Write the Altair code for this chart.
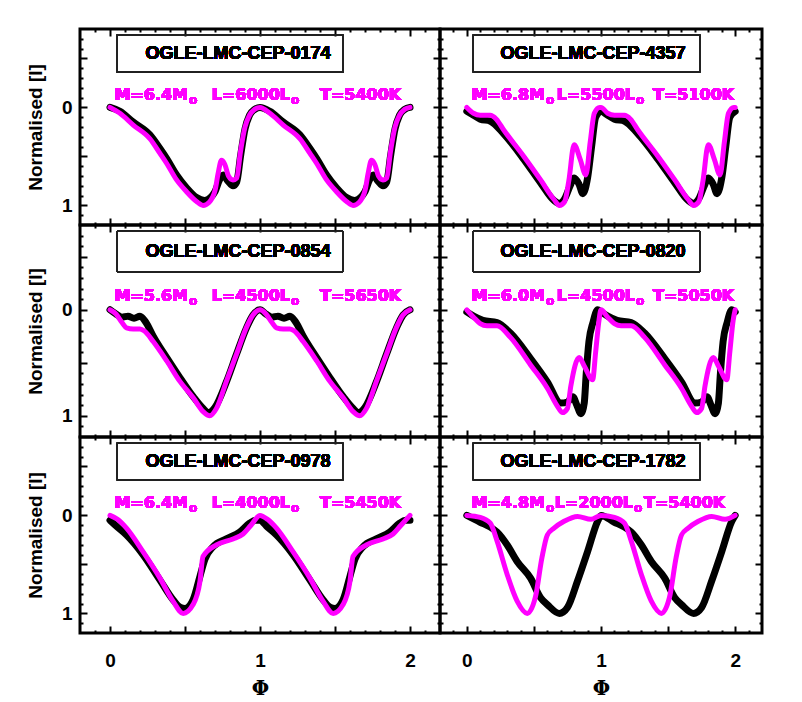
import altair as alt
import pandas as pd

# ---------------- data ----------------
star_names = ["OGLE-LMC-CEP-0174", "OGLE-LMC-CEP-4357",
              "OGLE-LMC-CEP-0854", "OGLE-LMC-CEP-0820",
              "OGLE-LMC-CEP-0978", "OGLE-LMC-CEP-1782"]
masses = ["6.4", "6.8", "5.6", "6.0", "6.4", "4.8"]
lums = ["6000", "5500", "4500", "4500", "4000", "2000"]
temps = ["5400", "5100", "5650", "5050", "5450", "5400"]

# OGLE-LMC-CEP-0174
obs_ph_0174 = [0, 0.066, 0.155, 0.266, 0.333, 0.377, 0.444, 0.51, 0.577, 0.63, 0.67, 0.70, 0.73, 0.755, 0.785, 0.82, 0.845, 0.87, 0.90, 0.93, 0.965, 1.0]
obs_v_0174 = [0, 0.04, 0.15, 0.28, 0.42, 0.52, 0.69, 0.82, 0.92, 0.95, 0.92, 0.86, 0.74, 0.69, 0.75, 0.80, 0.76, 0.50, 0.22, 0.08, 0.02, 0]
mod_ph_0174 = [0, 0.066, 0.155, 0.266, 0.333, 0.377, 0.444, 0.51, 0.577, 0.62, 0.66, 0.70, 0.72, 0.743, 0.765, 0.79, 0.82, 0.845, 0.87, 0.90, 0.93, 0.965, 1.0]
mod_v_0174 = [0, 0.06, 0.18, 0.32, 0.47, 0.57, 0.74, 0.86, 0.96, 1.0, 0.97, 0.85, 0.68, 0.54, 0.58, 0.70, 0.74, 0.72, 0.45, 0.20, 0.08, 0.02, 0]

# OGLE-LMC-CEP-4357
obs_ph_4357 = [0, 0.05, 0.1, 0.175, 0.275, 0.425, 0.55, 0.65, 0.69, 0.73, 0.77, 0.80, 0.835, 0.865, 0.90, 0.93, 0.96, 1.0]
obs_v_4357 = [0.04, 0.08, 0.12, 0.14, 0.27, 0.53, 0.77, 0.95, 0.98, 0.93, 0.80, 0.72, 0.78, 0.88, 0.72, 0.40, 0.10, 0.04]
mod_ph_4357 = [0, 0.05, 0.1, 0.175, 0.22, 0.275, 0.425, 0.55, 0.65, 0.69, 0.73, 0.76, 0.80, 0.845, 0.887, 0.92, 0.95, 0.99, 1.0]
mod_v_4357 = [0, 0.06, 0.08, 0.08, 0.12, 0.23, 0.50, 0.74, 0.94, 1.0, 0.96, 0.75, 0.38, 0.53, 0.69, 0.35, 0.06, 0.0, 0.0]

# OGLE-LMC-CEP-0854
obs_ph_0854 = [0, 0.04, 0.08, 0.12, 0.16, 0.2, 0.24, 0.288, 0.377, 0.466, 0.555, 0.62, 0.655, 0.70, 0.776, 0.843, 0.91, 0.953, 1.0]
obs_v_0854 = [0, 0.04, 0.07, 0.06, 0.08, 0.06, 0.12, 0.25, 0.45, 0.64, 0.82, 0.93, 0.97, 0.92, 0.68, 0.42, 0.17, 0.05, 0]
mod_ph_0854 = [0, 0.04, 0.08, 0.11, 0.155, 0.2, 0.23, 0.288, 0.377, 0.466, 0.555, 0.621, 0.665, 0.71, 0.776, 0.843, 0.91, 0.953, 1.0]
mod_v_0854 = [0, 0.04, 0.12, 0.17, 0.18, 0.18, 0.20, 0.30, 0.48, 0.675, 0.83, 0.96, 1.0, 0.93, 0.675, 0.42, 0.166, 0.05, 0]

# OGLE-LMC-CEP-0820
obs_ph_0820 = [0, 0.05, 0.12, 0.225, 0.325, 0.475, 0.6, 0.7, 0.75, 0.79, 0.82, 0.85, 0.875, 0.89, 0.91, 0.94, 0.975, 1.0]
obs_v_0820 = [0.02, 0.06, 0.10, 0.12, 0.22, 0.46, 0.68, 0.88, 0.87, 0.82, 0.90, 0.98, 0.88, 0.60, 0.30, 0.12, 0.0, 0.02]
mod_ph_0820 = [0, 0.05, 0.1, 0.15, 0.225, 0.325, 0.475, 0.6, 0.675, 0.713, 0.75, 0.775, 0.837, 0.875, 0.9375, 0.96, 0.985, 1.0]
mod_v_0820 = [0, 0.07, 0.13, 0.15, 0.15, 0.26, 0.52, 0.74, 0.91, 0.97, 0.93, 0.72, 0.45, 0.53, 0.66, 0.40, 0.10, 0]

# OGLE-LMC-CEP-0978
obs_ph_0978 = [0, 0.05, 0.11, 0.22, 0.333, 0.42, 0.47, 0.50, 0.554, 0.6, 0.632, 0.687, 0.776, 0.865, 0.93, 0.97, 1.0]
obs_v_0978 = [0.05, 0.12, 0.20, 0.40, 0.66, 0.86, 0.94, 0.95, 0.86, 0.62, 0.45, 0.32, 0.24, 0.17, 0.08, 0.05, 0.05]
mod_ph_0978 = [0, 0.05, 0.11, 0.22, 0.333, 0.42, 0.488, 0.554, 0.6, 0.62, 0.71, 0.82, 0.887, 0.94, 1.0]
mod_v_0978 = [0, 0.04, 0.13, 0.37, 0.64, 0.875, 1.0, 0.91, 0.67, 0.42, 0.30, 0.24, 0.19, 0.10, 0]

# OGLE-LMC-CEP-1782
obs_ph_1782 = [0, 0.1, 0.175, 0.225, 0.3, 0.375, 0.475, 0.55, 0.6, 0.69, 0.75, 0.825, 0.9, 0.975, 1.0]
obs_v_1782 = [0, 0.07, 0.12, 0.17, 0.30, 0.47, 0.64, 0.84, 0.91, 1.0, 0.94, 0.67, 0.37, 0.06, 0.0]
mod_ph_1782 = [0, 0.1, 0.175, 0.225, 0.3, 0.375, 0.45, 0.51, 0.56, 0.6, 0.65, 0.725, 0.825, 0.925, 1.0]
mod_v_1782 = [0, 0.02, 0.08, 0.26, 0.60, 0.875, 1.0, 0.84, 0.43, 0.20, 0.13, 0.06, 0.01, 0.04, 0]

obs_curves = [(obs_ph_0174, obs_v_0174), (obs_ph_4357, obs_v_4357),
              (obs_ph_0854, obs_v_0854), (obs_ph_0820, obs_v_0820),
              (obs_ph_0978, obs_v_0978), (obs_ph_1782, obs_v_1782)]
mod_curves = [(mod_ph_0174, mod_v_0174), (mod_ph_4357, mod_v_4357),
              (mod_ph_0854, mod_v_0854), (mod_ph_0820, mod_v_0820),
              (mod_ph_0978, mod_v_0978), (mod_ph_1782, mod_v_1782)]

# axis tick positions / labels
X_MAJOR = [0, 0.5, 1, 1.5, 2]
X_MINOR = [-0.1, 0.1, 0.2, 0.3, 0.4, 0.6, 0.7, 0.8, 0.9, 1.1, 1.2, 1.3, 1.4,
           1.6, 1.7, 1.8, 1.9, 2.1]
X_LABELLED = [0, 1, 2]
Y_MAJOR = [-0.5, 0, 0.5, 1]
Y_MINOR = [-0.7, -0.6, -0.4, -0.3, -0.2, -0.1, 0.1, 0.2, 0.3, 0.4, 0.6, 0.7,
           0.8, 0.9, 1.1]
Y_LABELLED = [0, 1]

MAGENTA = "#FF00FF"


def two_cycles(ph, v):
    phase = list(ph[:-1]) + [p + 1 for p in ph]
    vals = list(v[:-1]) + list(v)
    return pd.DataFrame({"phase": phase, "v": vals})


x_scale = alt.Scale(domain=[-0.2, 2.2], nice=False, zero=False)
y_scale = alt.Scale(domain=[-0.8, 1.2], nice=False, zero=False, reverse=True)


def axis(orient, values, size, labels=False, labelled=None, title=None,
         label_pad=0, title_pad=0):
    kw = dict(orient=orient, values=values, tickSize=size, offset=-size,
              domain=False, grid=False, labels=labels, ticks=True,
              tickColor="black", tickWidth=2, title=title)
    if labels:
        kw["labelExpr"] = "indexof(%s, datum.value) >= 0 ? format(datum.value, 'd') : ''" % (
            "[" + ",".join(str(v) for v in labelled) + "]")
        kw["labelPadding"] = label_pad
        kw["labelOverlap"] = False
        kw["labelFlush"] = False
    if title:
        kw["titlePadding"] = title_pad
    return alt.Axis(**kw)


def text(df, s, x, y, size, color, align, baseline, font, dy=0):
    return alt.Chart(df).mark_text(
        text=s, align=align, baseline=baseline, fontSize=size, font=font,
        fontWeight="bold", color=color, dy=dy
    ).encode(x=alt.value(x), y=alt.YDatum(y, axis=None, scale=y_scale))


def panel(i, row, col):
    W = 360 if col == 0 else 322
    H = 212 if row == 1 else 196
    obs = two_cycles(*obs_curves[i])
    mod = two_cycles(*mod_curves[i])
    bottom = row == 2
    left = col == 0

    l_obs = alt.Chart(obs).mark_line(
        color="black", strokeWidth=7, interpolate="monotone",
        strokeJoin="round", strokeCap="round"
    ).encode(
        x=alt.X("phase:Q", scale=x_scale,
                axis=axis("bottom", X_MAJOR, 7, labels=bottom, labelled=X_LABELLED,
                          title="Φ" if bottom else None, label_pad=18, title_pad=8)),
        y=alt.Y("v:Q", scale=y_scale,
                axis=axis("left", Y_MAJOR, 7, labels=left, labelled=Y_LABELLED,
                          title="Normalised [I]" if left else None,
                          label_pad=8, title_pad=16)),
    )
    l_mod = alt.Chart(mod).mark_line(
        color=MAGENTA, strokeWidth=5, interpolate="monotone",
        strokeJoin="round", strokeCap="round"
    ).encode(
        x=alt.X("phase:Q", scale=x_scale, axis=axis("bottom", X_MINOR, 3)),
        y=alt.Y("v:Q", scale=y_scale, axis=axis("left", Y_MINOR, 3)),
    )
    l_top_major = alt.Chart(obs).mark_line(opacity=0).encode(
        x=alt.X("phase:Q", scale=x_scale, axis=axis("top", X_MAJOR, 7)),
        y=alt.Y("v:Q", scale=y_scale, axis=axis("right", Y_MAJOR, 7)),
    )
    l_top_minor = alt.Chart(obs).mark_line(opacity=0).encode(
        x=alt.X("phase:Q", scale=x_scale, axis=axis("top", X_MINOR, 3)),
        y=alt.Y("v:Q", scale=y_scale, axis=axis("right", Y_MINOR, 3)),
    )

    box_x = (37, 263) if left else (33, 260)
    name_x = 158 if left else 153
    box = alt.Chart(obs).mark_rect(
        fillOpacity=0, stroke="#222222", strokeWidth=1
    ).encode(
        x=alt.value(box_x[0]), x2=alt.value(box_x[1]),
        y=alt.YDatum(-0.74, axis=None, scale=y_scale), y2=alt.Y2Datum(-0.36),
    )
    name = text(obs, star_names[i], name_x, -0.55, 18, "black", "center",
                "middle", "Liberation Sans")

    if left:
        m_end, l_end, t_start = 108, 210, 240
    elif i == 5:
        m_end, l_end, t_start = 105, 193, 204
    else:
        m_end, l_end, t_start = 105, 195, 213
    f = "DejaVu Sans"
    ann = [
        text(obs, "M=" + masses[i] + "M", m_end, -0.08, 16, MAGENTA, "right", "alphabetic", f),
        text(obs, "o", m_end + 1, -0.08, 12, MAGENTA, "left", "alphabetic", f, dy=4),
        text(obs, "L=" + lums[i] + "L", l_end, -0.08, 16, MAGENTA, "right", "alphabetic", f),
        text(obs, "o", l_end + 1, -0.08, 12, MAGENTA, "left", "alphabetic", f, dy=4),
        text(obs, "T=" + temps[i] + "K", t_start, -0.08, 16, MAGENTA, "left", "alphabetic", f),
    ]

    return alt.layer(l_obs, l_mod, l_top_major, l_top_minor, box, name, *ann).resolve_axis(
        x="independent", y="independent"
    ).properties(width=W, height=H)


panels = [panel(2 * r + c, r, c) for r in range(3) for c in range(2)]

chart = alt.concat(*panels, columns=2, spacing=0, bounds="flush").properties(
    padding={"left": 16, "top": 18, "right": 10, "bottom": 4}
).configure_view(
    stroke="black", strokeWidth=3
).configure_axis(
    labelFont="Liberation Sans", labelFontSize=19, labelFontWeight="bold",
    labelColor="black", titleFont="Liberation Sans", titleFontSize=19,
    titleFontWeight="bold", titleColor="black"
).configure_axisBottom(
    titleFont="DejaVu Serif", titleFontSize=20
)

chart.save("out.html", embed_options={"renderer": "svg", "actions": False})
